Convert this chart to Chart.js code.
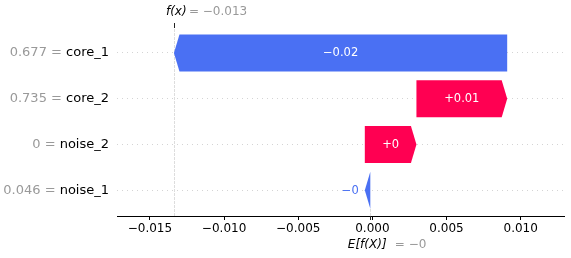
<!DOCTYPE html>
<html><head><meta charset="utf-8">
<script src="https://cdn.jsdelivr.net/npm/chart.js@4/dist/chart.umd.min.js"></script>
<style>html,body{margin:0;padding:0;background:#fff}#wrap{width:571px;height:258px}</style>
</head><body><div id="wrap"><canvas id="c" width="571" height="258"></canvas></div>
<script>
// ---- data ----
const features = ['core_1', 'core_2', 'noise_2', 'noise_1'];
const featureValues = ['0.677', '0.735', '0', '0.046'];
const shapValues = [-0.02247, 0.00612, 0.00348, -0.00037];
const baseValue = -0.00014;
const xTickValues = [-0.015, -0.010, -0.005, 0.000, 0.005, 0.010];
const xRange = [-0.01722, 0.01292];

// ---- derived waterfall positions (bottom row first) ----
const n = features.length;
const starts = new Array(n), ends = new Array(n);
let acc = baseValue;
for (let i = n - 1; i >= 0; i--) { starts[i] = acc; acc += shapValues[i]; ends[i] = acc; }
const fx = acc;

const BLUE = '#4a70f3', RED = '#ff0052', GRAY = '#999999';
const FONT = '"DejaVu Sans", sans-serif';
const minus = s => s.replace(/-/g, '\u2212');
function strip(s) { return s.indexOf('.') >= 0 ? s.replace(/0+$/, '').replace(/\.$/, '') : s; }
function fmtSigned(v) { return minus((v >= 0 ? '+' : '-') + strip(Math.abs(v).toFixed(2))); }
function fmtPlain(v, d) { const s = strip(Math.abs(v).toFixed(d)); return minus((v < 0 ? '-' : '') + s); }

const waterfall = {
  id: 'waterfall',
  beforeDatasetsDraw(chart) {
    const {ctx, chartArea: ca, scales: {x, y}} = chart;
    const fxPx = x.getPixelForValue(fx);
    const bPx = x.getPixelForValue(baseValue);
    const meta = chart.getDatasetMeta(0);
    ctx.save();
    ctx.lineWidth = 1;
    ctx.strokeStyle = '#dddddd';
    ctx.setLineDash([3, 1]);
    ctx.beginPath(); ctx.moveTo(Math.round(fxPx) + 0.5, ca.top - 1); ctx.lineTo(Math.round(fxPx) + 0.5, ca.bottom); ctx.stroke();
    const last = meta.data[n - 1];
    ctx.beginPath(); ctx.moveTo(Math.round(bPx) + 0.5, last.y + last.height / 2); ctx.lineTo(Math.round(bPx) + 0.5, ca.bottom); ctx.stroke();
    ctx.setLineDash([]);
    ctx.strokeStyle = '#222';
    ctx.beginPath(); ctx.moveTo(Math.round(fxPx) + 0.5, ca.top - 7); ctx.lineTo(Math.round(fxPx) + 0.5, ca.top - 2); ctx.stroke();
    ctx.beginPath(); ctx.moveTo(Math.round(bPx) + 0.5, ca.bottom); ctx.lineTo(Math.round(bPx) + 0.5, ca.bottom + 4); ctx.stroke();
    ctx.restore();
  },
  afterDatasetsDraw(chart) {
    const {ctx, scales: {x}} = chart;
    const meta = chart.getDatasetMeta(0);
    ctx.save();
    ctx.font = '11.5px ' + FONT;
    ctx.textBaseline = 'middle';
    meta.data.forEach((el, i) => {
      const v = shapValues[i];
      const col = v >= 0 ? RED : BLUE;
      const s = x.getPixelForValue(starts[i]);
      const e = x.getPixelForValue(ends[i]);
      const d = Math.sign(e - s) || 1;
      const len = Math.abs(e - s);
      const hl = Math.min(5.5, len);
      const top = el.y - el.height / 2, bot = el.y + el.height / 2;
      ctx.fillStyle = col;
      ctx.beginPath();
      ctx.moveTo(s, top);
      ctx.lineTo(e - d * hl, top);
      ctx.lineTo(e, el.y);
      ctx.lineTo(e - d * hl, bot);
      ctx.lineTo(s, bot);
      ctx.closePath();
      ctx.fill();
      const txt = fmtSigned(v);
      const tw = ctx.measureText(txt).width;
      if (tw + 8 < len) {
        ctx.fillStyle = '#fff';
        ctx.textAlign = 'center';
        ctx.fillText(txt, (s + e) / 2, el.y + 0.5);
      } else {
        ctx.fillStyle = col;
        ctx.textAlign = d < 0 ? 'right' : 'left';
        ctx.fillText(txt, e + d * 6, el.y + 0.5);
      }
    });
    ctx.restore();
  },
  afterDraw(chart) {
    const {ctx, chartArea: ca, scales: {x, y}} = chart;
    ctx.save();
    ctx.textBaseline = 'middle';
    // feature labels
    const rx = ca.left - 8;
    features.forEach((f, i) => {
      const py = y.getPixelForValue(i);
      ctx.font = '13px ' + FONT;
      ctx.textAlign = 'right';
      ctx.fillStyle = '#000';
      ctx.fillText(f, rx, py);
      const w = ctx.measureText(f).width;
      ctx.fillStyle = GRAY;
      ctx.fillText(featureValues[i] + ' = ', rx - w, py);
    });
    // f(x) label on top
    const fxPx = x.getPixelForValue(fx);
    ctx.textAlign = 'left';
    ctx.font = 'italic 12px ' + FONT;
    ctx.fillStyle = '#000';
    ctx.fillText('f(x)', fxPx - 8, 12);
    ctx.font = '12px ' + FONT;
    ctx.fillStyle = GRAY;
    ctx.fillText('= ' + fmtPlain(fx, 3), fxPx + 15, 12);
    // E[f(X)] label at bottom
    const bPx = x.getPixelForValue(baseValue);
    ctx.font = 'italic 12px ' + FONT;
    ctx.fillStyle = '#000';
    ctx.fillText('E[f(X)]', bPx - 22.5, 245);
    ctx.font = '12px ' + FONT;
    ctx.fillStyle = GRAY;
    ctx.fillText('= ' + fmtPlain(baseValue, 3), bPx + 24.5, 245);
    ctx.restore();
  }
};

new Chart(document.getElementById('c'), {
  type: 'bar',
  data: {
    datasets: [{
      data: features.map((f, i) => ({x: [starts[i], ends[i]], y: i})),
      backgroundColor: 'rgba(0,0,0,0)',
      borderWidth: 0,
      barThickness: 37
    }]
  },
  options: {
    indexAxis: 'y',
    responsive: false,
    animation: false,
    events: [],
    layout: {padding: {top: 30, right: 7, bottom: 0, left: 0}},
    plugins: {legend: {display: false}, tooltip: {enabled: false}},
    scales: {
      x: {
        type: 'linear', min: xRange[0], max: xRange[1],
        afterBuildTicks: s => { s.ticks = xTickValues.map(v => ({value: v})); },
        afterFit: s => { s.height = 42; },
        ticks: {
          callback: v => minus(Number(v).toFixed(3)),
          font: {family: FONT, size: 12}, color: '#000', padding: 2,
          maxRotation: 0, autoSkip: false
        },
        grid: {display: true, drawOnChartArea: false, drawTicks: true, tickLength: 4, color: '#000', lineWidth: 1},
        border: {display: true, color: '#000', width: 1}
      },
      y: {
        type: 'linear', reverse: true, min: -0.5, max: 3.56, offset: false,
        afterBuildTicks: s => { s.ticks = features.map((f, i) => ({value: i})); },
        afterFit: s => { s.width = 117; },
        ticks: {display: false},
        grid: {display: true, offset: false, drawTicks: false, color: '#d4d4d4', lineWidth: 1},
        border: {display: false, dash: [1, 4]}
      }
    }
  },
  plugins: [waterfall]
});
</script>
</body></html>
